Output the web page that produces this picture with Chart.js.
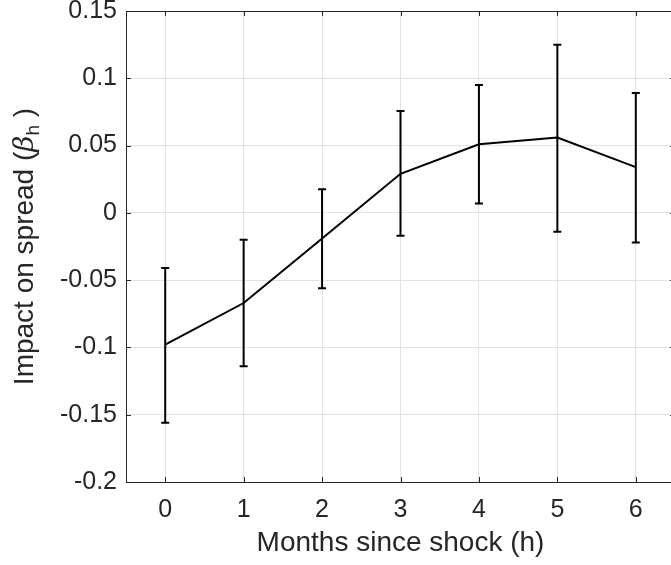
<!DOCTYPE html>
<html>
<head>
<meta charset="utf-8">
<script src="https://cdn.jsdelivr.net/npm/chart.js@4"></script>
<style>
  html, body { margin: 0; padding: 0; background: #fff; overflow: hidden; }
  #wrap { position: absolute; left: 0; top: 0; width: 680px; height: 565px; }
</style>
</head>
<body>
<div id="wrap"><canvas id="irf" width="680" height="565"></canvas></div>
<script>
// horizonte (meses) y estimaciones con sus bandas
const months   = [0, 1, 2, 3, 4, 5, 6];
const beta     = [-0.098, -0.067, -0.019, 0.029, 0.051, 0.056, 0.034];
const upperCI  = [-0.041, -0.020, 0.0175, 0.0757, 0.095, 0.125, 0.089];
const lowerCI  = [-0.156, -0.114, -0.056, -0.017, 0.007, -0.014, -0.022];

const yTicks      = [-0.2, -0.15, -0.1, -0.05, 0, 0.05, 0.1, 0.15];
const yTickLabels = ['-0.2', '-0.15', '-0.1', '-0.05', '0', '0.05', '0.1', '0.15'];
const xTitle = 'Months since shock (h)';
const yTitle = ['Impact on spread (', 'β', 'h', ' )'];

const INK  = '#262626';
const GRID = '#e3e3e3';
const FONT = '"Liberation Sans", Arial, sans-serif';

const errorBars = {
  id: 'errorBars',
  afterDatasetsDraw(chart) {
    const { ctx, scales: { x, y } } = chart;
    ctx.save();
    ctx.strokeStyle = '#000';
    ctx.lineWidth = 2;
    months.forEach((m, i) => {
      const px = x.getPixelForValue(m);
      const yt = y.getPixelForValue(upperCI[i]);
      const yb = y.getPixelForValue(lowerCI[i]);
      ctx.beginPath();
      ctx.moveTo(px, yt); ctx.lineTo(px, yb);
      ctx.moveTo(px - 4, yt); ctx.lineTo(px + 4, yt);
      ctx.moveTo(px - 4, yb); ctx.lineTo(px + 4, yb);
      ctx.stroke();
    });
    ctx.restore();
  },
};

// caja estilo matlab: borde + ticks hacia dentro + títulos
const boxAxes = {
  id: 'boxAxes',
  afterDraw(chart) {
    const { ctx, chartArea: a, scales: { x, y } } = chart;
    const tl = 5;
    ctx.save();
    ctx.strokeStyle = INK;
    ctx.lineWidth = 1;
    ctx.strokeRect(Math.round(a.left) + 0.5, Math.round(a.top) + 0.5,
                   Math.round(a.right - a.left), Math.round(a.bottom - a.top));
    ctx.beginPath();
    months.forEach(m => {
      const px = Math.round(x.getPixelForValue(m)) + 0.5;
      ctx.moveTo(px, a.bottom); ctx.lineTo(px, a.bottom - tl);
      ctx.moveTo(px, a.top);    ctx.lineTo(px, a.top + tl);
    });
    yTicks.forEach(v => {
      const py = Math.round(y.getPixelForValue(v)) + 0.5;
      ctx.moveTo(a.left, py);  ctx.lineTo(a.left + tl, py);
      ctx.moveTo(a.right, py); ctx.lineTo(a.right - tl, py);
    });
    ctx.stroke();

    ctx.fillStyle = INK;
    ctx.font = `28px ${FONT}`;
    ctx.textAlign = 'center';
    ctx.textBaseline = 'middle';
    ctx.fillText(xTitle, (a.left + a.right) / 2, 543);

    // eje y con beta y subíndice
    const f1 = `28px ${FONT}`, fb = 'italic 28px "DejaVu Serif", serif', fs = `19px ${FONT}`;
    ctx.font = f1; const w1 = ctx.measureText(yTitle[0]).width;
    ctx.font = fb; const w2 = ctx.measureText(yTitle[1]).width;
    ctx.font = fs; const w3 = ctx.measureText(yTitle[2]).width;
    ctx.font = f1; const w4 = ctx.measureText(yTitle[3]).width;
    const total = w1 + w2 + w3 + w4;
    ctx.translate(32, (a.top + a.bottom) / 2);
    ctx.rotate(-Math.PI / 2);
    ctx.textAlign = 'left';
    ctx.textBaseline = 'alphabetic';
    let cx = -total / 2;
    const base = 1;
    ctx.font = f1; ctx.fillText(yTitle[0], cx, base); cx += w1;
    ctx.font = fb; ctx.fillText(yTitle[1], cx, base); cx += w2;
    ctx.font = fs; ctx.fillText(yTitle[2], cx, base + 6); cx += w3;
    ctx.font = f1; ctx.fillText(yTitle[3], cx, base);
    ctx.restore();
  },
};

new Chart(document.getElementById('irf'), {
  type: 'line',
  data: {
    datasets: [{
      data: months.map((m, i) => ({ x: m, y: beta[i] })),
      borderColor: '#000',
      borderWidth: 2,
      pointRadius: 0,
      tension: 0,
      fill: false,
    }],
  },
  options: {
    responsive: false,
    animation: false,
    devicePixelRatio: 1,
    layout: { padding: { top: 11, right: 5, left: 0, bottom: 0 } },
    plugins: { legend: { display: false }, tooltip: { enabled: false } },
    scales: {
      x: {
        type: 'linear', min: -0.5, max: 6.5,
        afterBuildTicks: s => { s.ticks = months.map(v => ({ value: v })); },
        afterFit: s => { s.height = 83; s.paddingLeft = 0; s.paddingRight = 0; },
        grid: { color: GRID, drawTicks: false },
        border: { display: false },
        ticks: { color: INK, font: { family: FONT, size: 25 }, padding: 13, maxRotation: 0 },
      },
      y: {
        type: 'linear', min: -0.2, max: 0.15,
        afterBuildTicks: s => { s.ticks = yTicks.map(v => ({ value: v })); },
        afterFit: s => { s.width = 126; s.paddingTop = 0; s.paddingBottom = 0; },
        grid: { color: GRID, drawTicks: false },
        border: { display: false },
        ticks: { color: INK, font: { family: FONT, size: 25 }, padding: 9,
                 callback: (v, i) => yTickLabels[i] },
      },
    },
  },
  plugins: [errorBars, boxAxes],
});
</script>
</body>
</html>
